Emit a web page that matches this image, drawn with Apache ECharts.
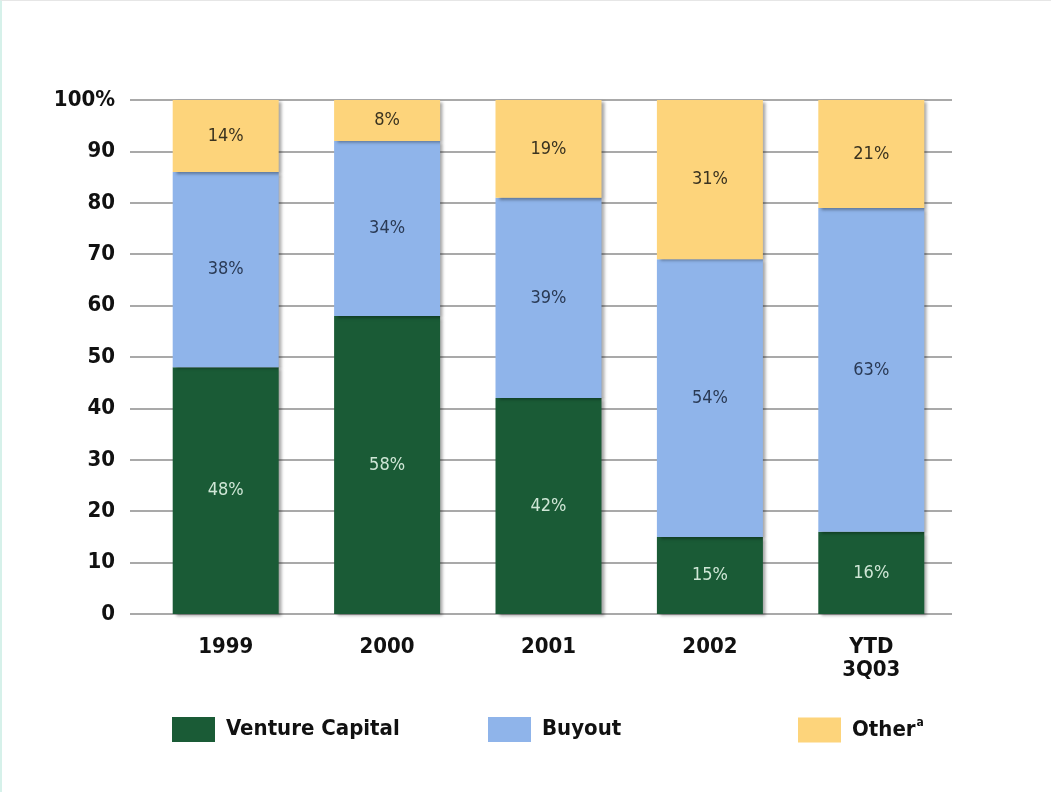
<!DOCTYPE html>
<html>
<head>
<meta charset="utf-8">
<title>Private equity commitments by type</title>
<script src="https://cdn.jsdelivr.net/npm/echarts@6/dist/echarts.min.js"></script>
<style>
  html, body { margin: 0; padding: 0; background: #fff; }
  #chart {
    width: 1051px; height: 792px; box-sizing: border-box;
    border-left: 2px solid #d6f1ea; border-top: 1px solid #e6e6e6;
  }
</style>
</head>
<body>
<div id="chart"></div>
<script>
// Share of commitments by fund type, percent of total
const categories = ['1999', '2000', '2001', '2002', 'YTD\n3Q03'];
const ventureCapital = [48, 58, 42, 15, 16];
const buyout = [38, 34, 39, 54, 63];
const other = [14, 8, 19, 31, 21];
const yTicks = [0, 10, 20, 30, 40, 50, 60, 70, 80, 90, 100];

const FONT = "'Liberation Sans Narrow', 'DejaVu Sans Condensed', 'Open Sans', sans-serif";
const COLORS = { vc: '#1a5b36', buyout: '#8fb4ea', other: '#fdd47b' };

const chart = echarts.init(document.getElementById('chart'));

function barSeries(name, data, color, labelColor) {
  return {
    name: name,
    type: 'bar',
    stack: 'total',
    xAxisIndex: 0,
    yAxisIndex: 0,
    barWidth: 106,
    data: data,
    itemStyle: {
      color: color,
      shadowColor: 'rgba(0,0,0,0.35)',
      shadowOffsetX: 3,
      shadowOffsetY: 2,
      shadowBlur: 3
    },
    label: {
      show: true,
      position: 'inside',
      formatter: p => p.value + '%',
      fontFamily: FONT,
      fontSize: 18,
      color: labelColor
    },
    emphasis: { disabled: true }
  };
}

function legendAt(left, name) {
  return {
    left: left,
    top: 711,
    data: [name],
    icon: 'rect',
    itemWidth: 43,
    itemHeight: 25,
    itemGap: 0,
    selectedMode: false,
    textStyle: {
      padding: [0, 0, 0, 6],
      rich: {
        b: { fontFamily: FONT, fontWeight: 'bold', fontSize: 22, color: '#111' },
        sup: { fontFamily: FONT, fontWeight: 'bold', fontSize: 12, color: '#111', verticalAlign: 'top', padding: [0, 0, 14, 1] }
      }
    },
    formatter: n => n === 'Other' ? '{b|Other}{sup|a}' : '{b|' + n + '}'
  };
}

chart.setOption({
  animation: false,
  backgroundColor: '#fff',
  legend: [
    legendAt(165, 'Venture Capital'),
    legendAt(481, 'Buyout'),
    legendAt(791, 'Other')
  ],
  grid: [
    { left: 143, right: 99, top: 99, bottom: 178 },
    { left: 128, right: 99, top: 99, bottom: 178 }
  ],
  xAxis: [
    {
      type: 'category',
      gridIndex: 0,
      data: categories,
      axisLine: { show: false },
      axisTick: { show: false },
      axisLabel: {
        margin: 22,
        fontFamily: FONT,
        fontWeight: 'bold',
        fontSize: 22,
        lineHeight: 23,
        color: '#111'
      }
    },
    {
      type: 'category',
      gridIndex: 1,
      data: categories,
      show: false
    }
  ],
  yAxis: [
    {
      type: 'value',
      gridIndex: 0,
      min: 0, max: 100, interval: 10,
      axisLine: { show: false },
      axisTick: { show: false },
      axisLabel: { show: false },
      splitLine: { show: false }
    },
    {
      type: 'value',
      gridIndex: 1,
      min: yTicks[0], max: yTicks[yTicks.length - 1], interval: 10,
      axisLine: { show: false },
      axisTick: { show: false },
      axisLabel: {
        margin: 15,
        fontFamily: FONT,
        fontWeight: 'bold',
        fontSize: 22,
        color: '#111',
        formatter: v => v === 100 ? '100%' : String(v)
      },
      splitLine: { show: true, lineStyle: { color: '#8c8c8c', width: 1.5 } }
    }
  ],
  series: [
    barSeries('Venture Capital', ventureCapital, COLORS.vc, '#cfe6d6'),
    barSeries('Buyout', buyout, COLORS.buyout, '#2a3a55'),
    barSeries('Other', other, COLORS.other, '#3a3320')
  ]
});
</script>
</body>
</html>
